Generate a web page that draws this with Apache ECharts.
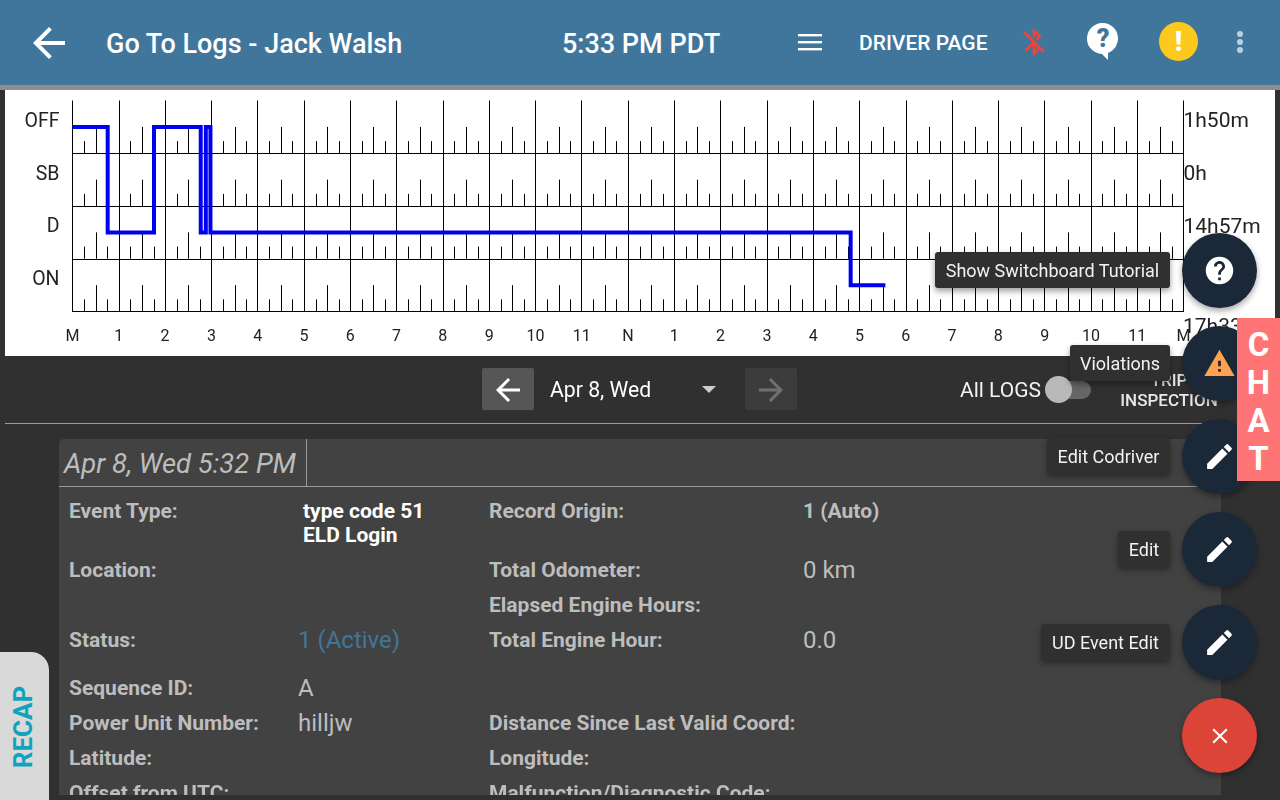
<!DOCTYPE html>
<html>
<head>
<meta charset="utf-8">
<script src="https://cdn.jsdelivr.net/npm/echarts@6/dist/echarts.min.js"></script>
<style>
  html, body { margin: 0; width: 1280px; height: 800px; overflow: hidden; background: #303030; font-family: Roboto, sans-serif; }
  #paper { position: absolute; left: 5px; top: 90px; width: 1270px; height: 266px; background: #fff; }
  #chart { position: absolute; left: 0; top: 0; width: 1280px; height: 800px; }
  .box, .t, svg { position: absolute; }
  .t { white-space: nowrap; line-height: 24px; height: 24px; }
  .h { color: #fff; font-weight: 500; }
  .k { color: #bdbdbd; font-weight: 700; font-size: 21px; }
  .v { color: #bdbdbd; font-size: 24px; }
  .tip { position: absolute; height: 36px; line-height: 38px; right: 110px; background: #303030; color: #f2f2f2; font-size: 18px; border-radius: 3px; box-shadow: 0 3px 6px rgba(0,0,0,.4); white-space: nowrap; box-sizing: border-box; text-align: center; }
  .fab { position: absolute; left: 1182px; width: 75px; height: 75px; border-radius: 50%; background: #1b2838; box-shadow: 0 3px 6px rgba(0,0,0,.35); }
  .fab svg { left: 21px; top: 21px; width: 33px; height: 33px; fill: #fff; }
  .chat { position: absolute; left: 1237px; width: 43px; text-align: center; color: #fff; font-weight: 700; font-size: 33px; line-height: 38px; height: 38px; }
</style>
</head>
<body>
<div id="paper"></div>
<div id="chart"></div>

<div class="box" style="left:0;top:0;width:1280px;height:85px;background:#41769c"></div>
<div class="box" style="left:0;top:85px;width:1280px;height:5px;background:#8e8e8e"></div>
<svg style="left:33px;top:27px;width:32px;height:32px" viewBox="4 4 16 16" fill="#fff"><path d="M20 11H7.83l5.59-5.59L12 4l-8 8 8 8 1.41-1.41L7.83 13H20v-2z"/></svg>
<div class="t h" style="left:106px;top:32px;font-size:27px">Go To Logs - Jack Walsh</div>
<div class="t h" style="left:562px;top:32px;font-size:27px">5:33 PM PDT</div>
<svg style="left:798px;top:34px;width:24px;height:17px" viewBox="0 0 24 17" fill="#fff"><rect y="0" width="24" height="2.4"/><rect y="7" width="24" height="2.4"/><rect y="14" width="24" height="2.4"/></svg>
<div class="t h" style="left:859px;top:31px;font-size:21px">DRIVER PAGE</div>
<svg style="left:1018px;top:26px;width:32px;height:32px" viewBox="0 0 24 24" fill="#f44336"><path d="M13 5.83l1.88 1.88-1.6 1.6 1.41 1.41 3.02-3.02L12 2h-1v5.03l2 2v-3.2zM5.41 4L4 5.41 10.59 12 5 17.59 6.41 19 11 14.41V22h1l4.29-4.29 2.3 2.29L20 18.59 5.41 4zM13 18.17v-3.76l1.88 1.88L13 18.17z"/></svg>
<svg style="left:1087px;top:23px;width:32px;height:37px" viewBox="0 0 32 37"><path fill="#fff" d="M16 0a15.5 15.5 0 0 0-1 31l6 6v-7A15.5 15.5 0 0 0 16 0z"/><text x="16" y="24" text-anchor="middle" font-family="Roboto" font-weight="900" font-size="25" fill="#41769c">?</text></svg>
<div class="box" style="left:1159px;top:22px;width:39px;height:39px;border-radius:50%;background:#fdc91c"></div>
<div class="t" style="left:1159px;top:30px;width:39px;text-align:center;color:#fff;font-weight:900;font-size:27px">!</div>
<svg style="left:1234px;top:30px;width:12px;height:24px" viewBox="0 0 12 24" fill="#bcd0de"><circle cx="6" cy="4" r="3"/><circle cx="6" cy="12" r="3"/><circle cx="6" cy="20" r="3"/></svg>

<div class="box" style="left:482px;top:368px;width:52px;height:42px;border-radius:2px;background:#565656"></div>
<svg style="left:496px;top:378px;width:24px;height:24px" viewBox="4 4 16 16" fill="#fff"><path d="M20 11H7.83l5.59-5.59L12 4l-8 8 8 8 1.41-1.41L7.83 13H20v-2z"/></svg>
<div class="t" style="left:550px;top:378px;font-size:21.2px;color:#fff">Apr 8, Wed</div>
<svg style="left:702px;top:386px;width:14px;height:7px" viewBox="0 0 14 7" fill="#ccc"><path d="M0 0h14L7 7z"/></svg>
<div class="box" style="left:745px;top:368px;width:52px;height:42px;border-radius:2px;background:#3c3c3c"></div>
<svg style="left:759px;top:378px;width:24px;height:24px" viewBox="4 4 16 16" fill="#707070"><path d="M4 11h12.17l-5.59-5.59L12 4l8 8-8 8-1.41-1.41L16.17 13H4v-2z"/></svg>
<div class="t" style="left:960px;top:378px;font-size:21px;color:#f2f2f2">All LOGS</div>
<div class="box" style="left:1056px;top:381px;width:35px;height:18px;border-radius:9px;background:#666"></div>
<div class="box" style="left:1045px;top:376px;width:27px;height:27px;border-radius:50%;background:#b9b9b9"></div>
<div class="t" style="left:1120px;top:368px;width:98px;text-align:center;font-size:17px;font-weight:500;color:#e8e8e8">TRIP</div>
<div class="t" style="left:1120px;top:388px;width:98px;text-align:center;font-size:17px;font-weight:500;color:#e8e8e8">INSPECTION</div>
<div class="box" style="left:5px;top:423px;width:1270px;height:1px;background:#9a9a9a"></div>

<div class="box" style="left:59px;top:439px;width:1162px;height:356px;background:#424242;border-radius:5px 5px 0 0"></div>
<div class="box" style="left:59px;top:486px;width:1162px;height:1px;background:#9a9a9a"></div>
<div class="box" style="left:306px;top:439px;width:1px;height:47px;background:#9a9a9a"></div>
<div class="t" style="left:64px;top:452px;font-size:27.4px;font-style:italic;color:#bdbdbd">Apr 8, Wed 5:32 PM</div>

<div class="t k" style="left:69px;top:499px">Event Type:</div>
<div class="t k" style="left:303px;top:499px;color:#fff">type code 51</div>
<div class="t k" style="left:303px;top:523px;color:#fff">ELD Login</div>
<div class="t k" style="left:489px;top:499px">Record Origin:</div>
<div class="t k" style="left:803px;top:499px">1 (Auto)</div>
<div class="t k" style="left:69px;top:558px">Location:</div>
<div class="t k" style="left:489px;top:558px">Total Odometer:</div>
<div class="t v" style="left:803px;top:558px">0 km</div>
<div class="t k" style="left:489px;top:593px">Elapsed Engine Hours:</div>
<div class="t k" style="left:69px;top:628px">Status:</div>
<div class="t v" style="left:298px;top:628px;color:#41769c">1 (Active)</div>
<div class="t k" style="left:489px;top:628px">Total Engine Hour:</div>
<div class="t v" style="left:803px;top:628px">0.0</div>
<div class="t k" style="left:69px;top:676px">Sequence ID:</div>
<div class="t v" style="left:298px;top:676px">A</div>
<div class="t k" style="left:69px;top:711px">Power Unit Number:</div>
<div class="t v" style="left:298px;top:711px">hilljw</div>
<div class="t k" style="left:489px;top:711px">Distance Since Last Valid Coord:</div>
<div class="t k" style="left:69px;top:746px">Latitude:</div>
<div class="t k" style="left:489px;top:746px">Longitude:</div>
<div class="t k" style="left:69px;top:781px">Offset from UTC:</div>
<div class="t k" style="left:489px;top:781px">Malfunction/Diagnostic Code:</div>
<div class="box" style="left:0;top:795px;width:1280px;height:5px;background:#303030"></div>

<div class="box" style="left:0;top:652px;width:49px;height:148px;background:#d9d9d9;border-radius:0 18px 0 0"></div>
<div class="t" style="left:-27px;top:715px;width:100px;text-align:center;transform:rotate(-90deg);color:#12a3bc;font-size:26px;font-weight:700">RECAP</div>

<div class="tip" style="top:252px;width:235px">Show Switchboard Tutorial</div>
<div class="tip" style="top:345px;width:100px">Violations</div>
<div class="tip" style="top:438px;width:123px">Edit Codriver</div>
<div class="tip" style="top:531px;width:52px">Edit</div>
<div class="tip" style="top:624px;width:129px">UD Event Edit</div>

<div class="fab" style="top:233px"><svg viewBox="0 0 24 24"><path d="M12 2C6.48 2 2 6.48 2 12s4.48 10 10 10 10-4.48 10-10S17.52 2 12 2zm1 17h-2v-2h2v2zm2.07-7.75l-.9.92C13.45 12.9 13 13.5 13 15h-2v-.5c0-1.1.45-2.1 1.17-2.83l1.24-1.26c.37-.36.59-.86.59-1.41 0-1.1-.9-2-2-2s-2 .9-2 2H8c0-2.21 1.79-4 4-4s4 1.79 4 4c0 .88-.36 1.68-.93 2.25z"/></svg></div>
<div class="fab" style="top:326px"><svg viewBox="0 0 24 24" style="fill:#ffa14e"><path d="M1 21h22L12 2 1 21zm12-3h-2v-2h2v2zm0-4h-2v-4h2v4z"/></svg></div>
<div class="fab" style="top:419px"><svg viewBox="0 0 24 24"><path d="M3 17.25V21h3.75L17.81 9.94l-3.75-3.75L3 17.25zM20.71 7.04a1 1 0 0 0 0-1.41l-2.34-2.34a1 1 0 0 0-1.41 0l-1.83 1.83 3.75 3.75 1.83-1.83z"/></svg></div>
<div class="fab" style="top:512px"><svg viewBox="0 0 24 24"><path d="M3 17.25V21h3.75L17.81 9.94l-3.75-3.75L3 17.25zM20.71 7.04a1 1 0 0 0 0-1.41l-2.34-2.34a1 1 0 0 0-1.41 0l-1.83 1.83 3.75 3.75 1.83-1.83z"/></svg></div>
<div class="fab" style="top:605px"><svg viewBox="0 0 24 24"><path d="M3 17.25V21h3.75L17.81 9.94l-3.75-3.75L3 17.25zM20.71 7.04a1 1 0 0 0 0-1.41l-2.34-2.34a1 1 0 0 0-1.41 0l-1.83 1.83 3.75 3.75 1.83-1.83z"/></svg></div>
<div class="fab" style="top:698px;background:#db4437"><svg viewBox="0 0 24 24" style="left:24.5px;top:24.5px;width:26px;height:26px"><path d="M19 6.41L17.59 5 12 10.59 6.41 5 5 6.41 10.59 12 5 17.59 6.41 19 12 13.41 17.59 19 19 17.59 13.41 12z"/></svg></div>

<div class="box" style="left:1237px;top:318px;width:43px;height:163px;background:#ff7575"></div>
<div class="chat" style="top:326px">C</div>
<div class="chat" style="top:364px">H</div>
<div class="chat" style="top:402px">A</div>
<div class="chat" style="top:440px">T</div>

<script>
const statuses = ["OFF", "SB", "D", "ON"];
const totals = ["1h50m", "0h", "14h57m", ""];
const dayTotal = "17h33m";
const hourLabels = ["M", "1", "2", "3", "4", "5", "6", "7", "8", "9", "10", "11",
  "N", "1", "2", "3", "4", "5", "6", "7", "8", "9", "10", "11", "M"];

// duty status changes
const changeHours = [0, 0.76, 1.76, 2.77, 2.88, 2.98, 16.81, 17.56];
const changeStatus = ["OFF", "D", "OFF", "D", "OFF", "D", "ON", "ON"];

// 15 min marks inside each hour, as a share of the row height
const quarterHours = [0.25, 0.5, 0.75];
const quarterLengths = [0.23, 0.5, 0.23];

const quarterMarks = [];
hourLabels.slice(1).forEach((_, hour) => {
  statuses.forEach((_, row) => {
    quarterHours.forEach((q, i) => quarterMarks.push([hour + q, row, quarterLengths[i]]));
  });
});

const axisText = { color: "#222", fontFamily: "Roboto" };

const chart = echarts.init(document.getElementById("chart"), null, { renderer: "canvas" });

chart.setOption({
  animation: false,
  grid: { left: 72.5, top: 100.5, width: 1111, height: 211 },
  xAxis: {
    type: "value",
    min: 0,
    max: 24,
    interval: 1,
    axisTick: { show: false },
    axisLine: { show: true, lineStyle: { color: "#000", width: 1 } },
    axisLabel: {
      ...axisText,
      fontSize: 16,
      margin: 17,
      showMinLabel: true,
      showMaxLabel: true,
      formatter: (v) => hourLabels[v],
    },
    splitLine: { show: true, lineStyle: { color: "#000", width: 1 } },
  },
  yAxis: [
    {
      type: "category",
      data: statuses,
      inverse: true,
      axisTick: { show: false },
      axisLine: { show: false },
      axisLabel: { ...axisText, fontSize: 19.5, margin: 13, verticalAlign: "bottom", lineHeight: 10 },
      splitLine: { show: true, showMinLine: false, lineStyle: { color: "#000", width: 1 } },
    },
    {
      type: "category",
      data: totals,
      inverse: true,
      position: "right",
      axisTick: { show: false },
      axisLine: { show: false },
      axisLabel: { ...axisText, fontSize: 21, margin: 0, align: "left", verticalAlign: "bottom", lineHeight: 10 },
      splitLine: { show: false },
    },
  ],
  graphic: [
    { type: "text", left: 1183, top: 317, silent: true,
      style: { text: dayTotal, fill: "#222", font: "21px Roboto" } },
  ],
  series: [
    {
      type: "custom",
      coordinateSystem: "cartesian2d",
      data: quarterMarks,
      encode: { x: 0, y: 1 },
      silent: true,
      z: 1,
      renderItem: (params, api) => {
        const p = api.coord([api.value(0), api.value(1)]);
        const band = api.size([0, 1])[1];
        const x = Math.round(p[0]) + 0.5;
        const bottom = p[1] + band / 2;
        return {
          type: "line",
          shape: { x1: x, y1: bottom, x2: x, y2: bottom - band * api.value(2) },
          style: { stroke: "#000", lineWidth: 1 },
        };
      },
    },
    {
      type: "line",
      data: changeHours.map((h, i) => [h, changeStatus[i]]),
      step: "start",
      showSymbol: false,
      silent: true,
      z: 5,
      lineStyle: { color: "#0000f0", width: 4, join: "miter" },
    },
  ],
});

window.addEventListener("resize", () => chart.resize());
</script>
</body>
</html>
